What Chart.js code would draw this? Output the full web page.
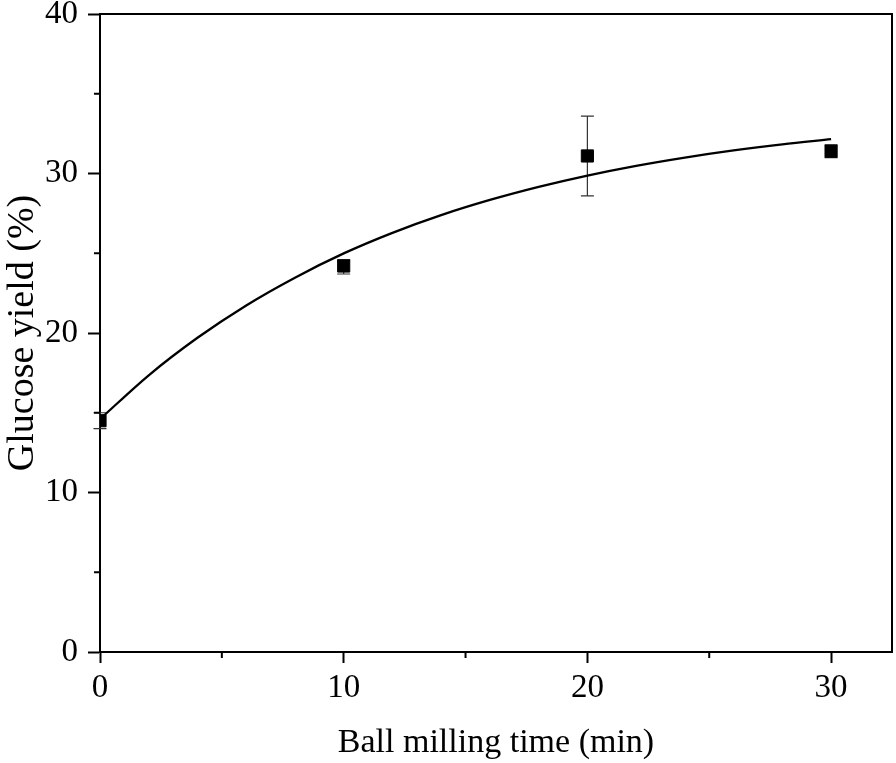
<!DOCTYPE html>
<html><head><meta charset="utf-8">
<script src="https://cdn.jsdelivr.net/npm/chart.js@4.4.1/dist/chart.umd.min.js"></script>
<style>html,body{margin:0;padding:0;background:#fff;} #wrap{width:896px;height:763px;}</style>
</head><body><div id="wrap"><canvas id="c" width="896" height="763"></canvas></div>
<script>
// Measured data
const millTime = [0, 10, 20, 30];
const glucoseYield = [14.5, 24.2, 31.1, 31.4];
const yieldErrLow = [14.0, 23.7, 28.6, 31.0];
const yieldErrHigh = [15.0, 24.6, 33.6, 31.8];
// Fitted curve
const fitTime = [0, 2, 4, 6, 8, 10, 12, 14, 16, 18, 20, 22, 24, 26, 28, 30];
const fitYield = [14.6, 17.35, 19.7, 21.73, 23.47, 24.99, 26.28, 27.39, 28.34, 29.16, 29.87, 30.48, 31.0, 31.45, 31.83, 32.15];
// Axes
const xMajorTicks = [0, 10, 20, 30];
const xMinorTicks = [5, 15, 25];
const yMajorTicks = [0, 10, 20, 30, 40];
const yMinorTicks = [5, 15, 25, 35];
const xTitle = 'Ball milling time (min)';
const yTitle = 'Glucose yield (%)';

const FONT = "'Liberation Serif', 'Times New Roman', serif";

const extrasPlugin = {
  id: 'extras',
  beforeDatasetsDraw(chart) {
    const ctx = chart.ctx, xs = chart.scales.x, ys = chart.scales.y;
    ctx.save();
    ctx.strokeStyle = '#333';
    ctx.lineWidth = 1.2;
    for (let i = 0; i < millTime.length; i++) {
      const px = xs.getPixelForValue(millTime[i]);
      const lo = ys.getPixelForValue(yieldErrLow[i]);
      const hi = ys.getPixelForValue(yieldErrHigh[i]);
      ctx.beginPath();
      ctx.moveTo(px, lo); ctx.lineTo(px, hi);
      ctx.moveTo(px - 6.5, lo); ctx.lineTo(px + 6.5, lo);
      ctx.moveTo(px - 6.5, hi); ctx.lineTo(px + 6.5, hi);
      ctx.stroke();
    }
    ctx.restore();
  },
  afterDraw(chart) {
    const ctx = chart.ctx, xs = chart.scales.x, ys = chart.scales.y;
    const a = chart.chartArea;
    ctx.save();
    ctx.strokeStyle = '#000';
    ctx.lineWidth = 2;
    ctx.beginPath();
    ctx.moveTo(a.left, a.top); ctx.lineTo(a.right, a.top); ctx.lineTo(a.right, a.bottom);
    ctx.stroke();
    ctx.beginPath();
    xMinorTicks.forEach(v => { const p = xs.getPixelForValue(v); ctx.moveTo(p, a.bottom); ctx.lineTo(p, a.bottom + 6); });
    yMinorTicks.forEach(v => { const p = ys.getPixelForValue(v); ctx.moveTo(a.left, p); ctx.lineTo(a.left - 6, p); });
    ctx.stroke();
    ctx.restore();
  }
};

new Chart(document.getElementById('c'), {
  type: 'scatter',
  data: {
    datasets: [
      {
        label: 'Measured',
        data: millTime.map((t, i) => ({x: t, y: glucoseYield[i]})),
        pointStyle: 'rect',
        pointRadius: 8.6,
        pointBackgroundColor: '#000',
        pointBorderColor: '#000',
        pointBorderWidth: 1,
        showLine: false,
        order: 0
      },
      {
        label: 'Fit',
        data: fitTime.map((t, i) => ({x: t, y: fitYield[i]})),
        showLine: true,
        borderColor: '#000',
        borderWidth: 2.3,
        pointRadius: 0,
        cubicInterpolationMode: 'monotone',
        order: 1
      }
    ]
  },
  options: {
    responsive: false,
    devicePixelRatio: 1,
    animation: false,
    layout: {autoPadding: false, padding: {top: 14, right: 4, left: 0, bottom: 0}},
    plugins: {legend: {display: false}, tooltip: {enabled: false}},
    scales: {
      x: {
        type: 'linear', min: 0, max: 32.5,
        afterBuildTicks: s => { s.ticks = xMajorTicks.map(v => ({value: v})); },
        afterFit: s => { s.height = 111; s.paddingLeft = 0; s.paddingRight = 0; },
        grid: {display: true, drawOnChartArea: false, drawTicks: true, tickLength: 11, tickWidth: 2, color: '#000'},
        border: {display: true, color: '#000', width: 2},
        ticks: {color: '#000', font: {family: FONT, size: 33}, padding: 6, maxRotation: 0},
        title: {display: true, text: xTitle, color: '#000', font: {family: FONT, size: 34}, padding: {top: 0, bottom: 0}}
      },
      y: {
        type: 'linear', min: 0, max: 40,
        afterBuildTicks: s => { s.ticks = yMajorTicks.map(v => ({value: v})); },
        afterFit: s => { s.width = 100; s.paddingTop = 0; s.paddingBottom = 0; },
        grid: {display: true, drawOnChartArea: false, drawTicks: true, tickLength: 12, tickWidth: 2, color: '#000'},
        border: {display: true, color: '#000', width: 2},
        ticks: {color: '#000', font: {family: FONT, size: 33}, padding: 10},
        title: {display: true, text: yTitle, color: '#000', font: {family: FONT, size: 38}, padding: {top: 0, bottom: 0}}
      }
    }
  },
  plugins: [extrasPlugin]
});
</script></body></html>
